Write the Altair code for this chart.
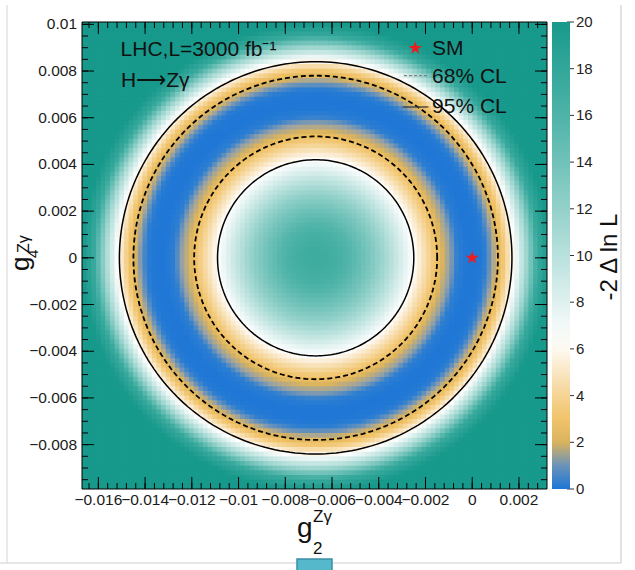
import numpy as np
import pandas as pd
import altair as alt

FONT = "Liberation Sans"

# ---------------- values ----------------
ring_center_g2 = -0.0067
ring_center_g4 = 0.0
# -2 Delta ln L read along the g4 = 0 row as a function of distance from the ring centre
profile_radius = [0.0, 0.0005, 0.0010, 0.0015, 0.0020, 0.0025, 0.0030, 0.0035, 0.0040, 0.0045,
                  0.0050, 0.0055, 0.0060, 0.0065, 0.0070, 0.0075, 0.0080, 0.0085, 0.0090, 0.0095,
                  0.0100, 0.0160]
profile_value = [17.2, 17.0, 16.5, 15.6, 14.3, 12.8, 11.0, 9.1, 7.1, 5.2,
                 3.4, 1.8, 0.7, 0.06, 0.14, 1.1, 3.1, 6.4, 11.2, 17.6,
                 20.0, 20.0]
cl68_radius = [0.0052, 0.0078]
cl95_radius = [0.0042, 0.0084]
sm_g2 = [0.0]
sm_g4 = [0.0]
legend_labels = ["SM", "68% CL", "95% CL"]
x_tick_values = [-0.016, -0.014, -0.012, -0.01, -0.008, -0.006, -0.004, -0.002, 0.0, 0.002]
x_tick_labels = ["\u22120.016", "\u22120.014", "\u22120.012", "\u22120.01", "\u22120.008",
                 "\u22120.006", "\u22120.004", "\u22120.002", "0", "0.002"]
y_tick_values = [-0.008, -0.006, -0.004, -0.002, 0.0, 0.002, 0.004, 0.006, 0.008, 0.01]
y_tick_labels = ["\u22120.008", "\u22120.006", "\u22120.004", "\u22120.002", "0",
                 "0.002", "0.004", "0.006", "0.008", "0.01"]
cbar_values = [0, 2, 4, 6, 8, 10, 12, 14, 16, 18, 20]
cbar_labels = ["0", "2", "4", "6", "8", "10", "12", "14", "16", "18", "20"]
color_stops = [0, 0.6, 1.3, 2.0, 2.8, 4.0, 5.2, 6.3, 8, 12, 16, 20]
color_range = ["#1e76d6", "#2c7ed2", "#98a2a6", "#d9b35e", "#f0c062", "#f5d494", "#fae9cc",
               "#ffffff", "#dff1ef", "#93d1ca", "#4eb3a8", "#17998b"]

X_DOMAIN = [-0.0167, 0.0032]
Y_DOMAIN = [-0.0099, 0.0101]
N_BINS = 100
W, H = 465, 467
CB_X, CB_W = 470, 18

STAR = ("M0,-1L0.2245,-0.309L0.951,-0.309L0.363,0.118L0.588,0.809L0,0.382"
        "L-0.588,0.809L-0.363,0.118L-0.951,-0.309L-0.2245,-0.309Z")

# ---------------- build the 2D histogram cells ----------------
xe = np.linspace(X_DOMAIN[0], X_DOMAIN[1], N_BINS + 1)
ye = np.linspace(Y_DOMAIN[0], Y_DOMAIN[1], N_BINS + 1)
X0, Y0 = np.meshgrid(xe[:-1], ye[:-1])
X1, Y1 = np.meshgrid(xe[1:], ye[1:])
XC, YC = (X0 + X1) / 2, (Y0 + Y1) / 2
R = np.hypot(XC - ring_center_g2, YC - ring_center_g4)
V = np.interp(R, profile_radius, profile_value)
eps = 0.00004  # small overlap so neighbouring cells leave no hairline seams
grid = pd.DataFrame({
    "x0": X0.ravel().round(6), "x1": np.minimum(X1.ravel() + eps, X_DOMAIN[1]).round(6),
    "y0": Y0.ravel().round(6), "y1": np.minimum(Y1.ravel() + eps, Y_DOMAIN[1]).round(6),
    "v": V.ravel().round(3),
})

# contour circles
ang = np.linspace(0, 2 * np.pi, 241)
rows = []
for kind, radii in (("95", cl95_radius), ("68", cl68_radius)):
    for j, r in enumerate(radii):
        for k, a in enumerate(ang):
            rows.append({"cl": kind, "ring": f"{kind}_{j}", "k": k,
                         "g2": round(ring_center_g2 + r * np.cos(a), 7),
                         "g4": round(ring_center_g4 + r * np.sin(a), 7)})
circles = pd.DataFrame(rows)

sm = pd.DataFrame({"g2": sm_g2, "g4": sm_g4})

xs = alt.Scale(domain=X_DOMAIN, nice=False, zero=False)
ys = alt.Scale(domain=Y_DOMAIN, nice=False, zero=False)
cs = alt.Scale(domain=color_stops, range=color_range, interpolate="rgb", clamp=True)

x_minor = pd.DataFrame({"t": np.round(np.arange(-0.0164, 0.00319, 0.0004), 5)})
y_minor = pd.DataFrame({"t": np.round(np.arange(-0.0095, 0.01011, 0.0005), 5)})
x_major = pd.DataFrame({"t": x_tick_values, "lab": x_tick_labels})
y_major = pd.DataFrame({"t": y_tick_values, "lab": y_tick_labels})
cbar = pd.DataFrame({"v": cbar_values, "lab": cbar_labels})

heat = alt.Chart(grid).mark_rect(strokeWidth=0).encode(
    x=alt.X("x0:Q", scale=xs, axis=None),
    x2="x1:Q",
    y=alt.Y("y0:Q", scale=ys, axis=None),
    y2="y1:Q",
    color=alt.Color("v:Q", scale=cs, legend=alt.Legend(
        orient="none", legendX=CB_X, legendY=0, direction="vertical",
        gradientLength=H, gradientThickness=CB_W, labelOpacity=0, labelFontSize=1,
        title=None, padding=0, gradientStrokeWidth=0)),
)

solid = alt.Chart(circles[circles.cl == "95"]).mark_line(color="black", strokeWidth=1.5).encode(
    x=alt.X("g2:Q", scale=xs, axis=None),
    y=alt.Y("g4:Q", scale=ys, axis=None),
    detail="ring:N", order="k:Q",
)
dashed = alt.Chart(circles[circles.cl == "68"]).mark_line(
    color="black", strokeWidth=1.8, strokeDash=[5, 3]).encode(
    x=alt.X("g2:Q", scale=xs, axis=None),
    y=alt.Y("g4:Q", scale=ys, axis=None),
    detail="ring:N", order="k:Q",
)
star = alt.Chart(sm).mark_point(shape=STAR, filled=True, color="#ee1c1c", size=200, opacity=1).encode(
    x=alt.X("g2:Q", scale=xs, axis=None),
    y=alt.Y("g4:Q", scale=ys, axis=None),
)


def xticks(df, y0, y1):
    return alt.Chart(df).mark_rule(color="black", strokeWidth=1).encode(
        x=alt.X("t:Q", scale=xs, axis=None), y=alt.value(y0), y2=alt.value(y1))


def yticks(df, x0, x1):
    return alt.Chart(df).mark_rule(color="black", strokeWidth=1).encode(
        y=alt.Y("t:Q", scale=ys, axis=None), x=alt.value(x0), x2=alt.value(x1))


ticks = [
    xticks(x_major, H, H - 12), xticks(x_minor, H, H - 6),
    xticks(x_major, 0, 12), xticks(x_minor, 0, 6),
    yticks(y_major, 0, 12), yticks(y_minor, 0, 6),
    yticks(y_major, W, W - 12), yticks(y_minor, W, W - 6),
]

# tick labels
x_labels = alt.Chart(x_major).mark_text(font=FONT, fontSize=15.5, color="#1a1a1a",
                                        align="center", baseline="top").encode(
    x=alt.X("t:Q", scale=xs, axis=None), y=alt.value(H + 4), text="lab:N")
y_labels = alt.Chart(y_major).mark_text(font=FONT, fontSize=15.5, color="#1a1a1a",
                                        align="right", baseline="middle").encode(
    y=alt.Y("t:Q", scale=ys, axis=None), x=alt.value(-5), text="lab:N")

# colour-bar tick marks and labels (value -> pixel along the bar)
cb_base = alt.Chart(cbar).transform_calculate(py=f"{H} * (1 - datum.v / 20)")
cb_ticks = cb_base.mark_rule(color="#333333", strokeWidth=1).encode(
    y=alt.Y("py:Q", scale=None, axis=None), x=alt.value(CB_X + CB_W - 3), x2=alt.value(CB_X + CB_W + 4))
cb_labels = cb_base.mark_text(font=FONT, fontSize=15, color="#222222", align="left",
                              baseline="middle").encode(
    y=alt.Y("py:Q", scale=None, axis=None), x=alt.value(CB_X + CB_W + 6), text="lab:N")

one = pd.DataFrame({"a": [0]})
frame = alt.Chart(one).mark_rect(fillOpacity=0, stroke="black", strokeWidth=1).encode(
    x=alt.value(0), x2=alt.value(W), y=alt.value(0), y2=alt.value(H))

# in-plot legend and labels (positions in data coordinates)
ann = pd.DataFrame({
    "g2": [-0.01505, -0.01503, -0.00172, -0.00172, -0.00172],
    "g4": [0.00863, 0.00731, 0.00868, 0.00748, 0.0062],
    "t": ["LHC,L=3000 fb\u207b\u00b9", "H\u27f6Z\u03b3"] + legend_labels,
})
ann_text = alt.Chart(ann).mark_text(align="left", baseline="alphabetic", font=FONT,
                                    fontSize=21, color="#111111").encode(
    x=alt.X("g2:Q", scale=xs, axis=None),
    y=alt.Y("g4:Q", scale=ys, axis=None),
    text="t:N",
)
leg_star = alt.Chart(pd.DataFrame({"g2": [-0.00244], "g4": [0.00898]})).mark_point(
    shape=STAR, filled=True, color="#ee1c1c", size=200, opacity=1).encode(
    x=alt.X("g2:Q", scale=xs, axis=None), y=alt.Y("g4:Q", scale=ys, axis=None))
leg_dash = alt.Chart(pd.DataFrame({"a": [-0.00292], "b": [-0.00188], "g4": [0.0078]})).mark_rule(
    color="#808080", strokeWidth=1.2, strokeDash=[3, 2]).encode(
    x=alt.X("a:Q", scale=xs, axis=None), x2="b:Q", y=alt.Y("g4:Q", scale=ys, axis=None))
leg_solid = alt.Chart(pd.DataFrame({"a": [-0.00298], "b": [-0.00188], "g4": [0.00646]})).mark_rule(
    color="#444444", strokeWidth=1.4).encode(
    x=alt.X("a:Q", scale=xs, axis=None), x2="b:Q", y=alt.Y("g4:Q", scale=ys, axis=None))


def label(txt, x, y, size, angle=0, align="left"):
    return alt.Chart(one).mark_text(text=txt, font=FONT, fontSize=size, angle=angle, align=align,
                                    baseline="alphabetic", color="#111111").encode(
        x=alt.value(x), y=alt.value(y))


titles = [
    label("g", 215, 515, 28), label("Z\u03b3", 231, 500, 17), label("2", 231, 532, 17),
    label("g", -53.5, 249, 26, 270), label("Z\u03b3", -53, 231, 16, 270), label("4", -44, 236, 15, 270),
    label("-2 \u0394 ln L", 535, 235, 24, 270, "center"),
]

# slide frame remnants around the figure
frame_v = alt.Chart(one).mark_rule(color="#cfcfcf", strokeWidth=1.2).encode(
    x=alt.value(539), y=alt.value(-17), y2=alt.value(541))
frame_l = alt.Chart(one).mark_rule(color="#dcdcdc", strokeWidth=1.2).encode(
    x=alt.value(-75), y=alt.value(-17), y2=alt.value(541))
frame_h = alt.Chart(one).mark_rule(color="#cfcfcf", strokeWidth=1.2).encode(
    x=alt.value(-82), x2=alt.value(539), y=alt.value(541))
box = alt.Chart(one).mark_rect(color="#55b8cb", stroke="#3a8ea6", strokeWidth=1.5).encode(
    x=alt.value(215), x2=alt.value(250), y=alt.value(537), y2=alt.value(552))

chart = alt.layer(
    heat, solid, dashed, star, *ticks, frame, x_labels, y_labels, cb_ticks, cb_labels,
    ann_text, leg_star, leg_dash, leg_solid,
    *titles, frame_v, frame_l, frame_h, box,
).properties(
    width=W, height=H,
    padding={"left": 82, "top": 22, "right": 88, "bottom": 81},
    autosize=alt.AutoSizeParams(type="none"),
    background="white",
).configure_view(stroke="transparent")

chart.save("out.html", embed_options={"renderer": "svg", "actions": False})
